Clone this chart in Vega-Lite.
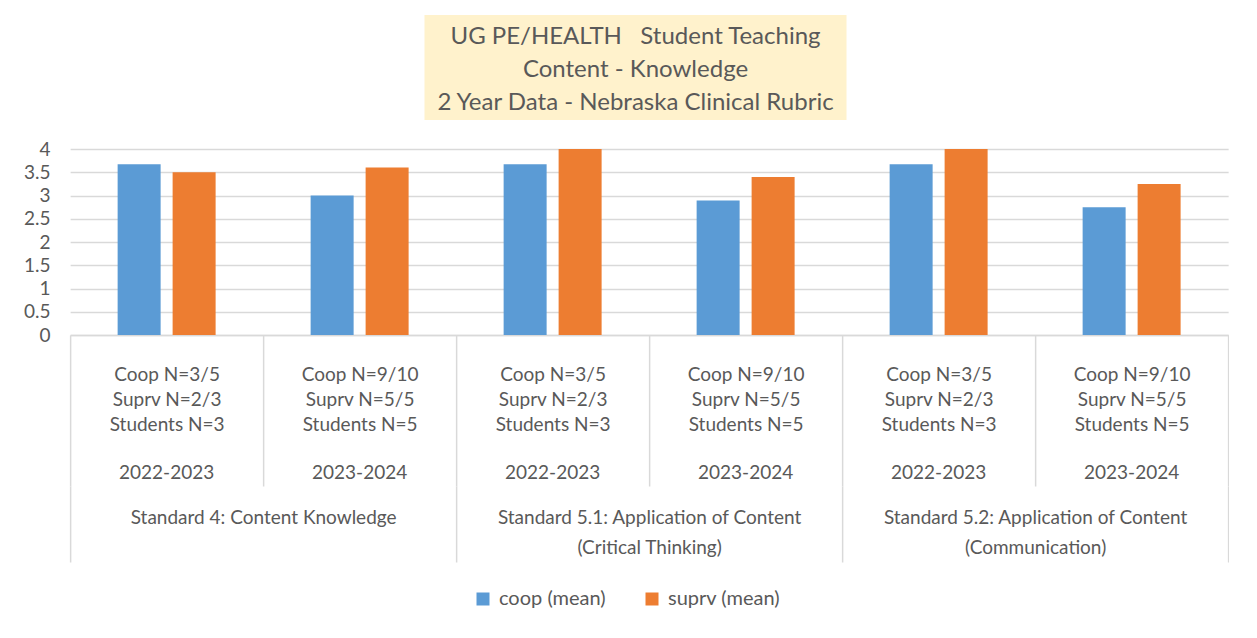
{
  "$schema": "https://vega.github.io/schema/vega-lite/v6.json",
  "padding": {"left": 20, "top": 15, "right": 0, "bottom": 0},
  "background": "white",
  "config": {
    "font": "Lato",
    "view": {"stroke": null},
    "text": {"font": "Lato"}
  },
  "spacing": 20,
  "center": true,
  "vconcat": [
    {
      "spacing": 0,
      "hconcat": [
        {
          "width": 422,
          "height": 105,
          "view": {"fill": "#fff2cc", "stroke": null},
          "data": {"values": [{"title": "UG PE/HEALTH\u00a0\u00a0\u00a0Student Teaching|Content - Knowledge|2 Year Data - Nebraska Clinical Rubric"}]},
          "mark": {"type": "text", "lineBreak": "|", "fontSize": 24, "lineHeight": 33, "color": "#595959", "font": "Lato", "baseline": "middle", "dy": -31},
          "encoding": {"text": {"field": "title", "type": "nominal"}}
        },
        {
          "width": 28,
          "height": 105,
          "data": {"values": [{"title": ""}]},
          "mark": {"type": "text", "fontSize": 1},
          "encoding": {"text": {"field": "title", "type": "nominal"}}
        }
      ]
    },
    {
      "width": 1158,
      "height": 186,
      "data": {"values": [
        {"standard": "Standard 4: Content Knowledge", "cat": "S4|Coop N=3/5|Suprv N=2/3|Students N=3", "year": "2022-2023", "series": "coop (mean)", "value": 3.67},
        {"standard": "Standard 4: Content Knowledge", "cat": "S4|Coop N=3/5|Suprv N=2/3|Students N=3", "year": "2022-2023", "series": "suprv (mean)", "value": 3.5},
        {"standard": "Standard 4: Content Knowledge", "cat": "S4b|Coop N=9/10|Suprv N=5/5|Students N=5", "year": "2023-2024", "series": "coop (mean)", "value": 3.0},
        {"standard": "Standard 4: Content Knowledge", "cat": "S4b|Coop N=9/10|Suprv N=5/5|Students N=5", "year": "2023-2024", "series": "suprv (mean)", "value": 3.6},
        {"standard": "Standard 5.1: Application of Content|(Critical Thinking)", "cat": "S51|Coop N=3/5|Suprv N=2/3|Students N=3", "year": "2022-2023", "series": "coop (mean)", "value": 3.67},
        {"standard": "Standard 5.1: Application of Content|(Critical Thinking)", "cat": "S51|Coop N=3/5|Suprv N=2/3|Students N=3", "year": "2022-2023", "series": "suprv (mean)", "value": 4.0},
        {"standard": "Standard 5.1: Application of Content|(Critical Thinking)", "cat": "S51b|Coop N=9/10|Suprv N=5/5|Students N=5", "year": "2023-2024", "series": "coop (mean)", "value": 2.89},
        {"standard": "Standard 5.1: Application of Content|(Critical Thinking)", "cat": "S51b|Coop N=9/10|Suprv N=5/5|Students N=5", "year": "2023-2024", "series": "suprv (mean)", "value": 3.4},
        {"standard": "Standard 5.2: Application of Content|(Communication)", "cat": "S52|Coop N=3/5|Suprv N=2/3|Students N=3", "year": "2022-2023", "series": "coop (mean)", "value": 3.67},
        {"standard": "Standard 5.2: Application of Content|(Communication)", "cat": "S52|Coop N=3/5|Suprv N=2/3|Students N=3", "year": "2022-2023", "series": "suprv (mean)", "value": 4.0},
        {"standard": "Standard 5.2: Application of Content|(Communication)", "cat": "S52b|Coop N=9/10|Suprv N=5/5|Students N=5", "year": "2023-2024", "series": "coop (mean)", "value": 2.75},
        {"standard": "Standard 5.2: Application of Content|(Communication)", "cat": "S52b|Coop N=9/10|Suprv N=5/5|Students N=5", "year": "2023-2024", "series": "suprv (mean)", "value": 3.25}
      ]},
      "layer": [
        {
          "encoding": {
            "x": {
              "field": "cat", "type": "nominal", "sort": null,
              "scale": {"paddingInner": 0, "paddingOuter": 0},
              "axis": {
                "orient": "bottom", "title": null, "tickBand": "extent", "tickSize": 151,
                "tickColor": "#d9d9d9", "tickWidth": 1.5, "domainColor": "#d9d9d9", "domainWidth": 1.5,
                "labelExpr": "datum.value ? slice(split(datum.value, '|'), 1) : ''",
                "labelFontSize": 19, "labelLineHeight": 25, "labelPadding": -121, "labelBaseline": "top",
                "labelAngle": 0, "labelColor": "#595959", "labelFont": "Lato", "labelLimit": 0,
                "labelOverlap": false, "labelFlush": false, "grid": false
              }
            },
            "y": {
              "field": "value", "type": "quantitative",
              "scale": {"domain": [0, 4], "nice": false},
              "axis": {
                "title": null, "values": [0, 0.5, 1, 1.5, 2, 2.5, 3, 3.5, 4], "format": "~g",
                "domain": false, "ticks": false, "labelFontSize": 19, "labelColor": "#595959",
                "labelFont": "Lato", "labelPadding": 20, "gridColor": "#d9d9d9", "gridWidth": 1.5,
                "minExtent": 50, "maxExtent": 50
              }
            }
          },
          "layer": [
            {
              "mark": {"type": "bar"},
              "encoding": {
                "xOffset": {
                  "field": "series", "type": "nominal", "sort": null,
                  "scale": {"paddingInner": 0.218, "paddingOuter": 0.864}
                },
                "color": {
                  "field": "series", "type": "nominal", "sort": null,
                  "scale": {"range": ["#5b9bd5", "#ed7d31"]},
                  "legend": {
                    "orient": "none", "legendX": 403, "legendY": 574, "direction": "horizontal", "title": null,
                    "symbolType": "square", "symbolSize": 169, "symbolStrokeWidth": 0, "labelFontSize": 20,
                    "labelColor": "#595959", "labelFont": "Lato", "columnPadding": 36, "labelOffset": 6
                  }
                }
              }
            },
            {
              "transform": [{"filter": "datum.series === 'coop (mean)'"}],
              "mark": {"type": "text", "fontSize": 19, "color": "#595959", "font": "Lato", "baseline": "middle", "dy": 138},
              "encoding": {
                "y": {"datum": 0},
                "text": {"field": "year", "type": "nominal"}
              }
            }
          ]
        },
        {
          "mark": {"type": "rule", "opacity": 0},
          "encoding": {
            "x": {
              "field": "standard", "type": "nominal", "sort": null,
              "scale": {"paddingInner": 0, "paddingOuter": 0},
              "axis": {
                "orient": "bottom", "offset": 151, "title": null, "tickBand": "extent", "tickSize": 76,
                "tickColor": "#d9d9d9", "tickWidth": 1.5, "domain": false,
                "labelExpr": "datum.value ? split(datum.value, '|') : ''",
                "labelFontSize": 19, "labelLineHeight": 30, "labelPadding": -54, "labelBaseline": "top",
                "labelAngle": 0, "labelColor": "#595959", "labelFont": "Lato", "labelLimit": 0,
                "labelOverlap": false, "labelFlush": false, "grid": false
              }
            }
          }
        }
      ],
      "resolve": {"scale": {"x": "independent"}, "axis": {"x": "independent"}}
    }
  ]
}
